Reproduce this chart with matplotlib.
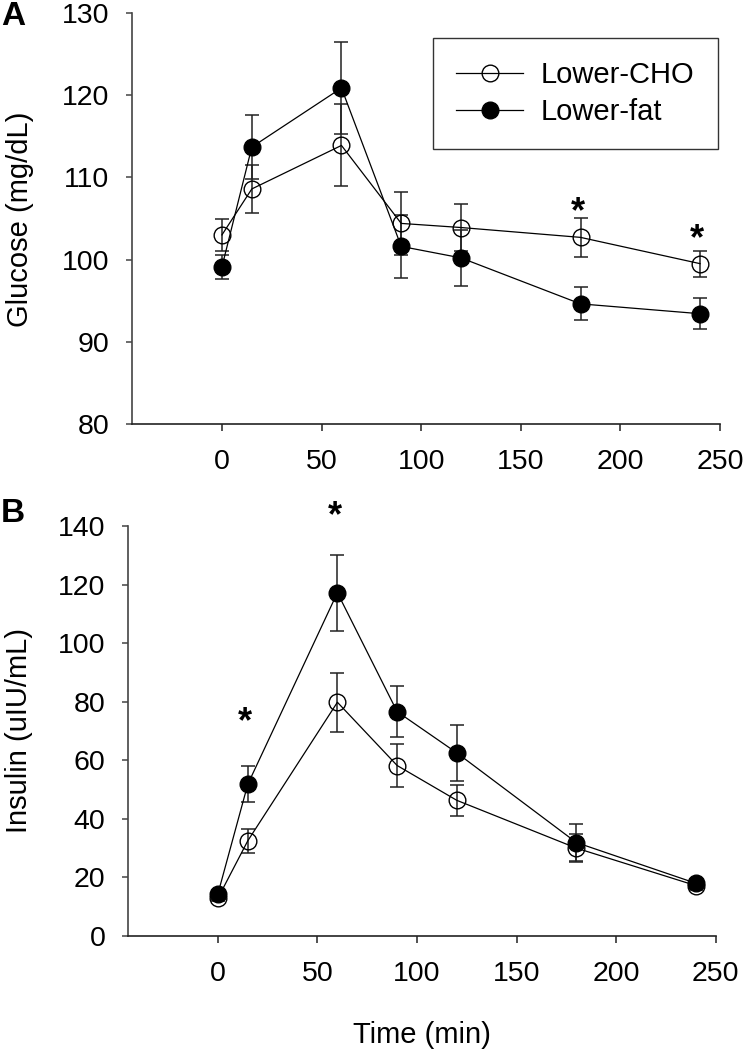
import matplotlib
matplotlib.use("Agg")
import matplotlib.pyplot as plt

plt.rcParams['font.family'] = ['Liberation Sans', 'DejaVu Sans']

# sampling times (min)
times = [0, 15, 60, 90, 120, 180, 240]

# panel A: glucose (mg/dL), mean and SE
glucose_cho = [103.0, 108.6, 113.9, 104.4, 103.9, 102.7, 99.5]
glucose_cho_se = [1.9, 2.9, 5.0, 3.8, 2.9, 2.35, 1.6]
glucose_fat = [99.1, 113.7, 120.9, 101.6, 100.2, 94.6, 93.4]
glucose_fat_se = [1.5, 3.9, 5.6, 3.8, 3.4, 2.0, 1.9]

# panel B: insulin (uIU/mL), mean and SE
insulin_cho = [12.9, 32.5, 79.8, 58.2, 46.3, 30.0, 17.2]
insulin_cho_se = [1.0, 4.1, 10.0, 7.4, 5.2, 4.8, 1.5]
insulin_fat = [14.4, 51.8, 117.2, 76.6, 62.5, 31.9, 18.0]
insulin_fat_se = [1.0, 6.2, 13.0, 8.6, 9.5, 6.2, 1.5]

# significance markers (time, height of asterisk)
glucose_sig_t = [180, 240]
glucose_sig_y = [106.9, 103.6]
insulin_sig_t = [15, 60]
insulin_sig_y = [76.2, 146.6]

labels = ["Lower-CHO", "Lower-fat"]
glucose_ticks = [80, 90, 100, 110, 120, 130]
insulin_ticks = [0, 20, 40, 60, 80, 100, 120, 140]
time_ticks = [0, 50, 100, 150, 200, 250]

FS = 20.5


def draw_panel(ax, cho, cho_se, fat, fat_se, sig_t, sig_y, yticks):
    for mean, se in ((cho, cho_se), (fat, fat_se)):
        ax.errorbar(times, mean, yerr=se, fmt='none', ecolor='#222222',
                    elinewidth=1.1, capsize=5, capthick=1.1, zorder=2)
    ax.plot(times, cho, color='black', lw=0.9, marker='o', ms=12,
            mfc='none', mec='black', mew=1.0, label=labels[0], zorder=3)
    ax.plot(times, fat, color='black', lw=0.9, marker='o', ms=12,
            mfc='black', mec='black', mew=1.0, label=labels[1], zorder=4)
    # asterisk glyph sits high in its box, nudge it down a little
    for t, y in zip(sig_t, sig_y):
        ax.annotate('*', (t, y), xytext=(-2, -7), textcoords='offset points',
                    ha='center', va='center', fontsize=26,
                    fontweight='bold', annotation_clip=False)

    ax.set_xlim(-45, 250)
    ax.set_ylim(yticks[0], yticks[-1])
    ax.set_xticks(time_ticks)
    ax.set_yticks(yticks)
    ax.spines['top'].set_visible(False)
    ax.spines['right'].set_visible(False)
    ax.spines['left'].set_color('#444444')
    ax.spines['bottom'].set_color('#222222')
    for s in ('left', 'bottom'):
        ax.spines[s].set_linewidth(1.2)
    ax.tick_params(axis='y', direction='out', length=4.5, width=1.1,
                   pad=12, labelsize=FS, color='#444444')
    ax.tick_params(axis='x', direction='out', length=5, width=1.1,
                   pad=13, labelsize=FS, color='#222222')


fig = plt.figure(figsize=(7.47, 10.54), dpi=100)

ax1 = fig.add_axes([0.1771, 0.5980, 0.7867, 0.3894])
draw_panel(ax1, glucose_cho, glucose_cho_se, glucose_fat, glucose_fat_se,
           glucose_sig_t, glucose_sig_y, glucose_ticks)
leg = ax1.legend(loc='upper right', bbox_to_anchor=(0.9961, 0.9398),
                 borderaxespad=0, fontsize=21, frameon=True, fancybox=False,
                 borderpad=0.8, labelspacing=0.3, handlelength=2.3,
                 handletextpad=0.6)
leg.get_frame().set_edgecolor('black')
leg.get_frame().set_linewidth(1.0)

ax2 = fig.add_axes([0.1718, 0.1120, 0.7863, 0.3890])
draw_panel(ax2, insulin_cho, insulin_cho_se, insulin_fat, insulin_fat_se,
           insulin_sig_t, insulin_sig_y, insulin_ticks)

fig.text(0.0268, 0.792, 'Glucose (mg/dL)', rotation=90, ha='center',
         va='center', fontsize=21)
fig.text(0.0254, 0.3065, 'Insulin (uIU/mL)', rotation=90, ha='center',
         va='center', fontsize=21)
fig.text(0.565, 1 - 1035 / 1054, 'Time (min)', ha='center', va='center',
         fontsize=21)
fig.text(0.0174, 0.984, 'A', ha='center', va='center', fontsize=24,
         fontweight='bold')
fig.text(0.0174, 1 - 514 / 1054, 'B', ha='center', va='center', fontsize=24,
         fontweight='bold')

fig.savefig('out.png', dpi=100, facecolor='white')
